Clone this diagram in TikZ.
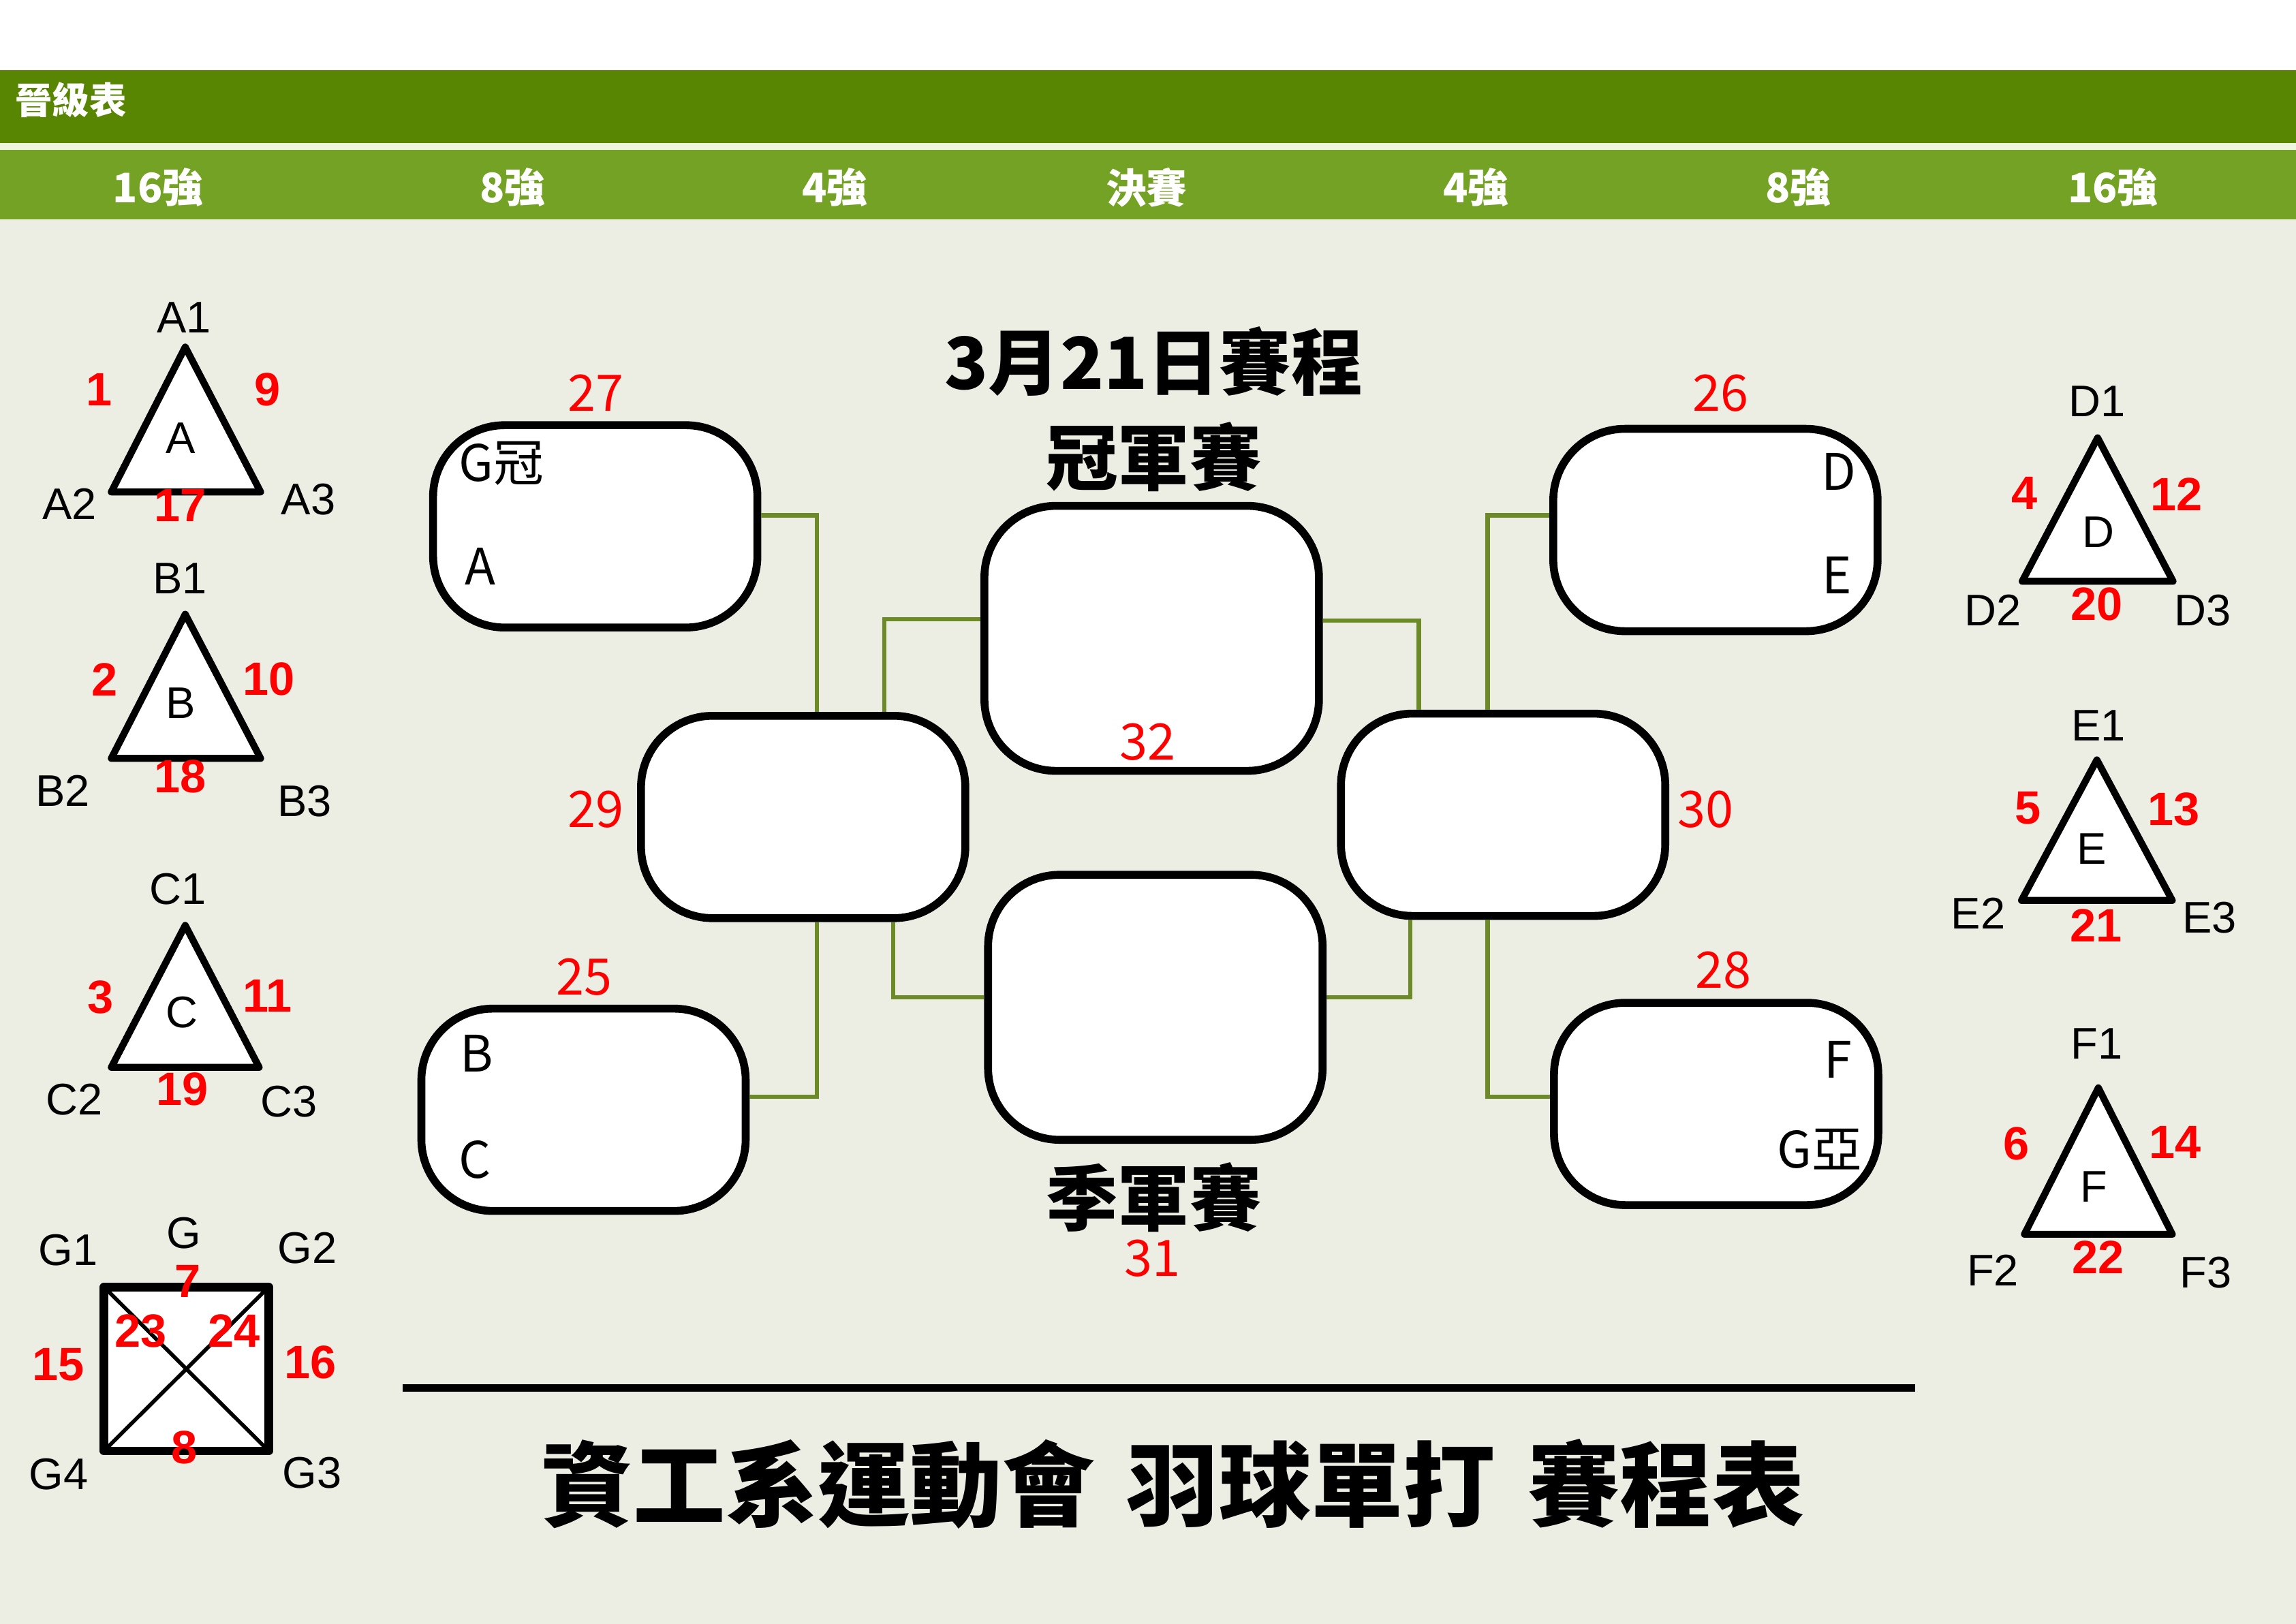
\documentclass[tikz,border=0pt]{standalone}
\usepackage{fontspec}
\setmainfont{Liberation Sans}
\newfontfamily\cjk{Noto Sans CJK TC}
\definecolor{bardark}{RGB}{89,134,2}
\definecolor{barlight}{RGB}{116,162,36}
\definecolor{barline}{RGB}{238,246,226}
\definecolor{paper}{RGB}{236,238,228}
\definecolor{linkgreen}{RGB}{108,138,40}
\tikzset{
	lab/.style = {font=\fontsize{18.5}{20}\selectfont, inner sep=0pt},
	num/.style = {text=red, font=\fontsize{19.5}{21}\selectfont\bfseries, inner sep=0pt},
	mnum/.style = {text=red, font=\cjk\fontsize{21}{23}\selectfont, inner sep=0pt},
	seed/.style = {font=\cjk\fontsize{21}{23}\selectfont, inner sep=0pt},
	head/.style = {text=white, font=\cjk\bfseries\fontsize{17}{19}\selectfont, inner sep=0pt},
	big/.style = {font=\cjk\bfseries\fontsize{30}{32}\selectfont, inner sep=0pt},
	grp/.style = {draw, line width=2.9pt, line join=round, fill=white},
	match/.style = {draw, line width=3.3pt, fill=white, rounded corners=10.5mm, minimum width=47.6mm, minimum height=29.7mm},
	champ/.style = {match, minimum width=49.1mm, minimum height=38.9mm},
	route/.style = {draw=linkgreen, line width=1.8pt}
}
\begin{document}
\begin{tikzpicture}[x = 0.21492mm, y = -0.21492mm]
	\useasboundingbox (0,0) rectangle (1568,1109);
	% page and header bars
	\fill[white] (0,0) rectangle (1568,48);
	\fill[bardark] (0,48) rectangle (1568,97.5);
	\fill[barline] (0,97.5) rectangle (1568,102.5);
	\fill[barlight] (0,102.5) rectangle (1568,150);
	\fill[paper] (0,150) rectangle (1568,1109);
	\node[head, font=\cjk\bfseries\fontsize{15.5}{17}\selectfont, anchor = west] (sheet) at (10,68) {晉級表};
	\node[head] (h1) at (108,128) {16強};
	\node[head] (h2) at (350,128) {8強};
	\node[head] (h3) at (570,128) {4強};
	\node[head] (h4) at (783,128) {決賽};
	\node[head] (h5) at (1008,128) {4強};
	\node[head] (h6) at (1228,128) {8強};
	\node[head] (h7) at (1443,128) {16強};

	% group A
	\draw[grp] (126.5,237) -- (76,336) -- (178,336) -- cycle;
	\node[lab] (lA1) at (125.7,217) {A1};
	\node[lab] (lA2) at (47.4,344) {A2};
	\node[lab] (lA3) at (210.6,341) {A3};
	\node[lab] (cA) at (123.6,299) {A};
	\node[num] (n1) at (67.8,266) {1};
	\node[num] (n9) at (182.8,266) {9};
	\node[num] (n17) at (123,345) {17};
	% group B
	\draw[grp] (126.5,419.5) -- (76,518) -- (178,518) -- cycle;
	\node[lab] (lB1) at (123,395) {B1};
	\node[lab] (lB2) at (42.8,540) {B2};
	\node[lab] (lB3) at (208,547) {B3};
	\node[lab] (cB) at (123.6,480) {B};
	\node[num] (n2) at (71.3,464) {2};
	\node[num] (n10) at (183.6,464) {10};
	\node[num] (n18) at (123,530.5) {18};
	% group C
	\draw[grp] (126.5,632) -- (76,729) -- (177,729) -- cycle;
	\node[lab] (lC1) at (121.6,607) {C1};
	\node[lab] (lC2) at (50.6,751) {C2};
	\node[lab] (lC3) at (197.5,752.5) {C3};
	\node[lab] (cC) at (124,691.5) {C};
	\node[num] (n3) at (68.5,681) {3};
	\node[num] (n11) at (182.8,680) {11};
	\node[num] (n19) at (124.4,744) {19};
	% group G
	\draw[grp, line width=3.6pt] (71,879) rectangle (183.5,991);
	\draw[line width=1.6pt] (71,879) -- (183.5,991);
	\draw[line width=1.6pt] (71,991) -- (183.5,879);
	\node[lab] (lG) at (125.7,842) {G};
	\node[lab] (lG1) at (46.5,854) {G1};
	\node[lab] (lG2) at (209.8,852.5) {G2};
	\node[lab] (lG3) at (213,1006) {G3};
	\node[lab] (lG4) at (40,1007) {G4};
	\node[num] (n7) at (128,875) {7};
	\node[num] (n8) at (126,988.8) {8};
	\node[num] (n15) at (40,932) {15};
	\node[num] (n16) at (212,930.6) {16};
	\node[num] (n23) at (96.3,909) {23};
	\node[num] (n24) at (160,909) {24};
	% group D
	\draw[grp] (1432.5,299) -- (1381,397) -- (1484,397) -- cycle;
	\node[lab] (lD1) at (1432,274) {D1};
	\node[lab] (lD2) at (1361,417) {D2};
	\node[lab] (lD3) at (1504.4,417) {D3};
	\node[lab] (cD) at (1433,363.4) {D};
	\node[num] (n4) at (1382.7,336.8) {4};
	\node[num] (n12) at (1486.5,337.6) {12};
	\node[num] (n20) at (1432,412.8) {20};
	% group E
	\draw[grp] (1432,519) -- (1380.5,615) -- (1483.5,615) -- cycle;
	\node[lab] (lE1) at (1433,495.6) {E1};
	\node[lab] (lE2) at (1351,624) {E2};
	\node[lab] (lE3) at (1509,626.6) {E3};
	\node[lab] (cE) at (1428.6,579.8) {E};
	\node[num] (n5) at (1385,552) {5};
	\node[num] (n13) at (1484.5,552.6) {13};
	\node[num] (n21) at (1431.5,632) {21};
	% group F
	\draw[grp] (1433,743) -- (1382.5,843) -- (1483.5,843) -- cycle;
	\node[lab] (lF1) at (1432,713) {F1};
	\node[lab] (lF2) at (1361,867.8) {F2};
	\node[lab] (lF3) at (1506.5,869) {F3};
	\node[lab] (cF) at (1430,810.6) {F};
	\node[num] (n6) at (1377,781) {6};
	\node[num] (n14) at (1485.3,780.4) {14};
	\node[num] (n22) at (1433,858.5) {22};

	% bracket
	\node[match] (m27) at (406.5,359.5) {};
	\node[match] (m25) at (398.5,758) {};
	\node[match] (m29) at (548.5,558) {};
	\node[champ] (m32) at (786.5,436) {};
	\node[champ] (m31) at (789,688) {};
	\node[match] (m30) at (1026.5,556.5) {};
	\node[match] (m26) at (1171.5,362) {};
	\node[match] (m28) at (1172,754) {};
	\coordinate (k1) at (558,352);
	\coordinate (k2) at (604,423);
	\coordinate (k3) at (558,749);
	\coordinate (k4) at (610,681);
	\coordinate (k5) at (969,424);
	\coordinate (k6) at (1016,352);
	\coordinate (k7) at (963,681);
	\coordinate (k8) at (1016,749);
	\draw[route] (m27.east |- k1) -- (k1) -- (k1 |- m29.north);
	\draw[route] (k2 |- m29.north) -- (k2) -- (m32.west |- k2);
	\draw[route] (k3 |- m29.south) -- (k3) -- (m25.east |- k3);
	\draw[route] (k4 |- m29.south) -- (k4) -- (m31.west |- k4);
	\draw[route] (m32.east |- k5) -- (k5) -- (k5 |- m30.north);
	\draw[route] (m26.west |- k6) -- (k6) -- (k6 |- m30.north);
	\draw[route] (k7 |- m30.south) -- (k7) -- (m31.east |- k7);
	\draw[route] (k8 |- m30.south) -- (k8) -- (m28.west |- k8);
	\node[mnum] (n27) at (406.8,268.5) {27};
	\node[mnum] (n25) at (398.9,667.3) {25};
	\node[mnum] (n29) at (406.8,553) {29};
	\node[mnum] (n32) at (783.6,506.8) {32};
	\node[mnum] (n31) at (787,859.5) {31};
	\node[mnum] (n30) at (1164.7,553) {30};
	\node[mnum] (n26) at (1175,268.5) {26};
	\node[mnum] (n28) at (1177,662.5) {28};
	\node[seed, anchor = west] (sGw) at (313,316.6) {G冠};
	\node[seed, anchor = west] (sA) at (317,387) {A};
	\node[seed, anchor = west] (sB) at (314,719.5) {B};
	\node[seed, anchor = west] (sC) at (313,792) {C};
	\node[seed, anchor = east] (sD) at (1268,322) {D};
	\node[seed, anchor = east] (sE) at (1265,392.7) {E};
	\node[seed, anchor = east] (sF) at (1265,723.6) {F};
	\node[seed, anchor = east] (sGr) at (1272,785) {G亞};
	\node[big] (date) at (788,247) {3月21日賽程};
	\node[big] (final) at (788,312) {冠軍賽};
	\node[big] (third) at (788,818) {季軍賽};

	% footer
	\draw[line width=3pt] (275,948) -- (1308,948);
	\node[font=\cjk\bfseries\fontsize{38.5}{40}\selectfont, inner sep=0pt] (title) at (801,1013.5) {資工系運動會\hspace{0.35em}羽球單打\hspace{0.35em}賽程表};
\end{tikzpicture}
\end{document}
